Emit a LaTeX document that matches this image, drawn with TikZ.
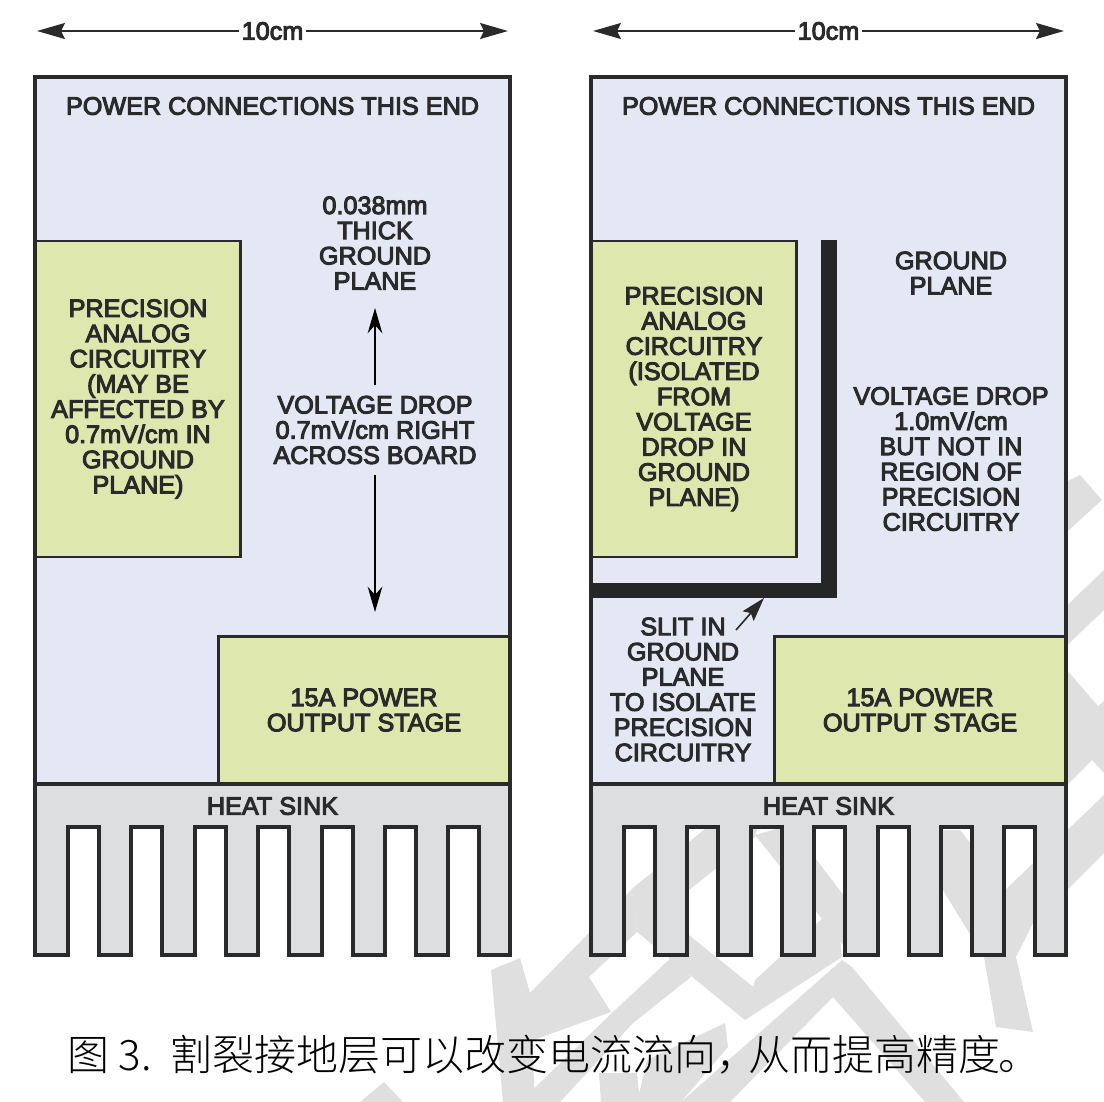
\documentclass[tikz,border=0pt]{standalone}
\usepackage{fontspec}
\setmainfont[FakeBold=4]{Liberation Sans}
\newfontfamily\cjk{Noto Sans CJK SC Light}
\usetikzlibrary{arrows.meta}
\definecolor{planefill}{HTML}{E3E8F4}
\definecolor{boxfill}{HTML}{DEE8AE}
\definecolor{sinkfill}{HTML}{DDDEE0}
\definecolor{inkcol}{HTML}{2A2A2A}
\definecolor{markfill}{HTML}{DFDFDF}
\tikzset{
  boardline/.style={draw=inkcol,line width=2.5pt,line join=miter,preaction={draw=gray!75,line width=3.6pt}},
  label/.style={font=\fontsize{18.9}{18.9}\selectfont,text=inkcol,align=center,inner sep=0pt},
  boxlabel/.style={label,draw=inkcol,line width=2pt,fill=boxfill},
  dimline/.style={draw=inkcol,line width=1.5pt,-{Stealth[length=21pt,width=12pt,inset=3pt]}},
  dropline/.style={draw=black,line width=1pt,-{Stealth[length=19pt,width=11pt]}}
}
\begin{document}
\begin{tikzpicture}[x=0.75pt,y=-0.75pt]
\useasboundingbox (0,0) rectangle (1104,1102);
% faint marks behind the boards
\fill[markfill] (491,970) -- (520,958) -- (530,993) -- (535,1102) -- (503,1102) -- cycle;
\fill[markfill] (530,993) -- (633,888) -- (637,932) -- (589,977) -- (611,1012) -- (520,1045) -- cycle;
\fill[markfill] (633,888) -- (716,820) -- (760,820) -- (755,837) -- (637,932) -- cycle;
\fill[markfill] (633,890) -- (767,998) -- (745,1020) -- (637,932) -- cycle;
\fill[markfill] (613,1012) -- (672,957) -- (691,977) -- (633,1023) -- (560,1102) -- (520,1102) -- cycle;
\fill[markfill] (755,980) -- (837,905) -- (842,957) -- (745,1020) -- cycle;
\fill[markfill] (755,835) -- (790,825) -- (870,930) -- (847,950) -- cycle;
\fill[markfill] (842,960) -- (852,967) -- (964,1102) -- (925,1102) -- (833,997) -- (730,1102) -- (681,1102) -- cycle;
\fill[markfill] (906,830) -- (960,830) -- (1033,923) -- (1016,957) -- (1033,1032) -- (996,1027) -- (984,957) -- cycle;
\fill[markfill] (1000,895) -- (1104,795) -- (1104,850) -- (1033,923) -- cycle;
\fill[markfill] (384,1082) -- (403,1102) -- (360,1102) -- cycle;
\fill[markfill] (599,1073) -- (637,1073) -- (640,1102) -- (601,1102) -- cycle;
\fill[markfill] (647,1060) -- (725,1023) -- (728,1047) -- (681,1102) -- (637,1102) -- cycle;
\fill[markfill] (1080,475) -- (1102,500) -- (1060,538) -- (1060,485) -- cycle;
\fill[markfill] (1060,612) -- (1104,570) -- (1104,610) -- (1060,652) -- cycle;
\fill[markfill] (1060,662) -- (1098,706) -- (1104,701) -- (1104,773) -- (1092,760) -- (1060,792) -- cycle;
\fill[markfill] (1060,848) -- (1104,807) -- (1104,853) -- (1060,897) -- cycle;
% the two boards
\foreach \side/\dx in {L/0,R/556}{
  \begin{scope}[xshift=\dx*0.75pt]
  \draw[boardline,fill=planefill] (35,77) rectangle (510,784);
  \draw[boardline,fill=sinkfill] (35,784) -- (510,784) -- (510,955)
    \foreach \gap in {448,385,322,258,195,131,68}{
      -- (\gap+31,955) -- (\gap+31,827) -- (\gap,827) -- (\gap,955)
    } -- (35,955) -- cycle;
  \node[label] (power\side) at (272.5,106) {POWER CONNECTIONS THIS END};
  \node[label] (sink\side) at (272.5,806) {HEAT SINK};
  \node[boxlabel,minimum width=218.5pt,minimum height=110pt] (stage\side) at (364,710) {15A POWER\\OUTPUT STAGE};
  \node[label,inner sep=2pt] (dim\side) at (272.5,31) {10cm};
  \coordinate (dimleft\side) at (37,31);
  \coordinate (dimright\side) at (508,31);
  \draw[dimline] (dim\side) -- (dimleft\side);
  \draw[dimline] (dim\side) -- (dimright\side);
  \end{scope}
}
% left board
\node[boxlabel,minimum width=154pt,minimum height=237pt] (analogL) at (138,399) {PRECISION\\ANALOG\\CIRCUITRY\\(MAY BE\\AFFECTED BY\\0.7mV/cm IN\\GROUND\\PLANE)};
\node[label] (thickL) at (375,243) {0.038mm\\THICK\\GROUND\\PLANE};
\node[label,inner ysep=8pt] (dropL) at (375,430) {VOLTAGE DROP\\0.7mV/cm RIGHT\\ACROSS BOARD};
\coordinate (droptop) at (375,308);
\coordinate (dropbot) at (375,612);
\draw[dropline] (dropL) -- (droptop);
\draw[dropline] (dropL) -- (dropbot);
% right board
\node[boxlabel,minimum width=154pt,minimum height=237pt] (analogR) at (694,399) {PRECISION\\ANALOG\\CIRCUITRY\\(ISOLATED\\FROM\\VOLTAGE\\DROP IN\\GROUND\\PLANE)};
\draw[draw=black!85,line width=11.6pt] (591,590.5) -- (829,590.5) -- (829,240);
\node[label] (planeR) at (951,273) {GROUND\\PLANE};
\node[label] (dropR) at (951,459) {VOLTAGE DROP\\1.0mV/cm\\BUT NOT IN\\REGION OF\\PRECISION\\CIRCUITRY};
\node[label] (slitR) at (683,689.5) {SLIT IN\\GROUND\\PLANE\\TO ISOLATE\\PRECISION\\CIRCUITRY};
\coordinate (slittail) at (736,630);
\coordinate (slittip) at (764,598);
\draw[draw=inkcol,line width=1.2pt,-{Stealth[length=18pt,width=11pt,inset=3pt]}] (slittail) -- (slittip);
% caption
\node[font=\cjk\fontsize{31.5}{31.5}\selectfont,anchor=west,inner sep=0pt] (caption) at (67,1055) {图 3.\hspace{14pt}割裂接地层可以改变电流流向，\hspace{-7pt}从而提高精度\hspace{-2pt}。};
\end{tikzpicture}
\end{document}
